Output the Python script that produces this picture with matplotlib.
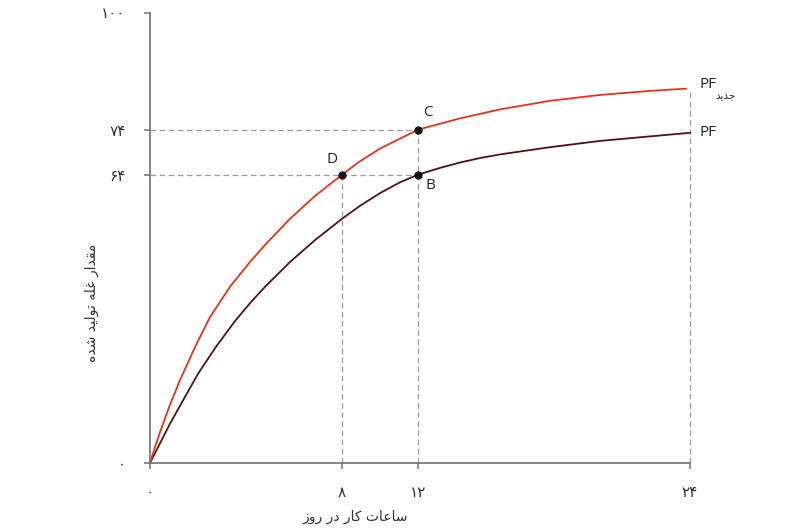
import numpy as np
import matplotlib.pyplot as plt

plt.rcParams['font.family'] = ['Open Sans', 'DejaVu Sans']

# hours of work per day (x) and grain produced (y)
hour_ticks = [0, 8, 12, 24]
hour_tick_labels = ['۰', '۸', '۱۲', '۲۴']
output_ticks = [0, 64, 74, 100]
output_tick_labels = ['۰', '۶۴', '۷۴', '۱۰۰']

pf_hours = [0, 0.21, 0.42, 0.83, 1.25, 2.0, 2.71, 3.54, 4.17, 4.79, 5.83, 6.88,
            8, 8.95, 10, 11.05, 12, 12.97, 13.85, 14.74, 15.62, 17.82, 20.03, 22.24, 24]
pf_output = [0, 2.2, 4.4, 8.7, 12.7, 19.8, 25.5, 31.5, 35.5, 39.1, 44.6, 49.5,
             54.2, 57.1, 59.9, 62.3, 64, 65.5, 66.7, 67.7, 68.5, 70.1, 71.5, 72.5, 73.3]

new_hours = [0, 0.21, 0.42, 0.63, 0.83, 1.25, 1.88, 2.5, 3.33, 4.13, 4.79, 5.83,
             6.88, 8, 8.95, 10, 11.05, 12, 12.97, 13.85, 14.74, 15.62, 17.82, 20.03,
             22.24, 23.82]
new_output = [0, 3.6, 6.9, 10.0, 12.9, 18.4, 25.8, 32.4, 39.1, 44.4, 48.4, 54.2,
              59.3, 64, 67.0, 69.8, 72.0, 74, 75.3, 76.5, 77.5, 78.5, 80.4, 81.7,
              82.6, 83.1]

point_names = ['D', 'C', 'B']
point_hours = [8, 12, 12]
point_output = [64, 74, 64]

# Persian text in presentation forms (matplotlib does no Arabic shaping)
x_title = '\uFEB3\uFE8E\uFECB\uFE8E\uFE95 \uFB90\uFE8E\uFEAD \uFEA9\uFEAD \uFEAD\uFEED\uFEAF'[::-1]
y_title = '\uFEE3\uFED8\uFEAA\uFE8D\uFEAD \uFECF\uFEE0\uFEEA \uFE97\uFEEE\uFEDF\uFBFF\uFEAA \uFEB7\uFEAA\uFEE9'[::-1]
new_word = '\uFE9F\uFEAA\uFBFE\uFEAA'[::-1]

# the hour axis in the original is not evenly spaced
axis_px = [0, 192, 268, 540]


def fwd(x):
    return np.interp(x, hour_ticks, axis_px)


def inv(x):
    return np.interp(x, axis_px, hour_ticks)


red = '#e5341d'
dark = '#4e1212'
grey = '#9a9a9a'

fig = plt.figure(figsize=(8.1, 5.3), dpi=100)
ax = fig.add_axes([150 / 810, 1 - 463 / 530, 540 / 810, 450.5 / 530])
ax.set_xscale('function', functions=(fwd, inv))
ax.set_xlim(0, 24)
ax.set_ylim(0, 100)

dash = dict(color=grey, lw=0.9, dashes=(4.5, 2.8))
ax.plot([0, 12], [74, 74], **dash)
ax.plot([0, 12], [64, 64], **dash)
ax.plot([8, 8], [0, 64], **dash)
ax.plot([12, 12], [0, 74], **dash)
ax.plot([24, 24], [0, new_output[-1]], clip_on=False, **dash)

ax.plot(pf_hours, pf_output, color=dark, lw=1.3, clip_on=False,
        solid_joinstyle='round')
ax.plot(new_hours, new_output, color=red, lw=1.3, clip_on=False,
        solid_joinstyle='round')

ax.plot(point_hours, point_output, 'o', color='#151515', ms=5, zorder=5)
offsets = {'D': (-7, 11), 'C': (7, 12), 'B': (9, -8)}
for name, h, q in zip(point_names, point_hours, point_output):
    ax.annotate(name, (h, q), xytext=offsets[name], textcoords='offset points',
                ha='center', va='center', fontsize=11, color='#222222')

ax.annotate('PF', (24, pf_output[-1]), xytext=(7, 0), textcoords='offset points',
            ha='left', va='center', fontsize=11, color='#222222', annotation_clip=False)
ax.annotate('PF', (24, new_output[-1]), xytext=(7, 3), textcoords='offset points',
            ha='left', va='center', fontsize=11, color='#222222', annotation_clip=False)
ax.annotate(new_word, (24, new_output[-1]), xytext=(18, -5), textcoords='offset points',
            ha='left', va='center', fontsize=7.5, color='#222222', annotation_clip=False,
            family=['DejaVu Sans'])

for side in ['top', 'right']:
    ax.spines[side].set_visible(False)
for side in ['left', 'bottom']:
    ax.spines[side].set_color('#707070')
    ax.spines[side].set_linewidth(1.2)

ax.set_xticks(hour_ticks)
ax.set_xticklabels(hour_tick_labels, family=['DejaVu Sans'])
ax.set_yticks(output_ticks)
ax.set_yticklabels(output_tick_labels, family=['DejaVu Sans'])
ax.xaxis.set_minor_locator(plt.NullLocator())
ax.tick_params(axis='both', direction='out', length=4.5, width=1.1, color='#707070',
               labelsize=11, labelcolor='#333333')
ax.tick_params(axis='x', pad=11)
ax.tick_params(axis='y', pad=13)

fig.text(355 / 810, 1 - 517 / 530, x_title, ha='center', va='center', fontsize=10,
         color='#333333', family=['DejaVu Sans'])
fig.text(92 / 810, 1 - 303 / 530, y_title, ha='center', va='center', rotation=90,
         fontsize=10, color='#333333', family=['DejaVu Sans'])

fig.savefig('out.png', dpi=100)
